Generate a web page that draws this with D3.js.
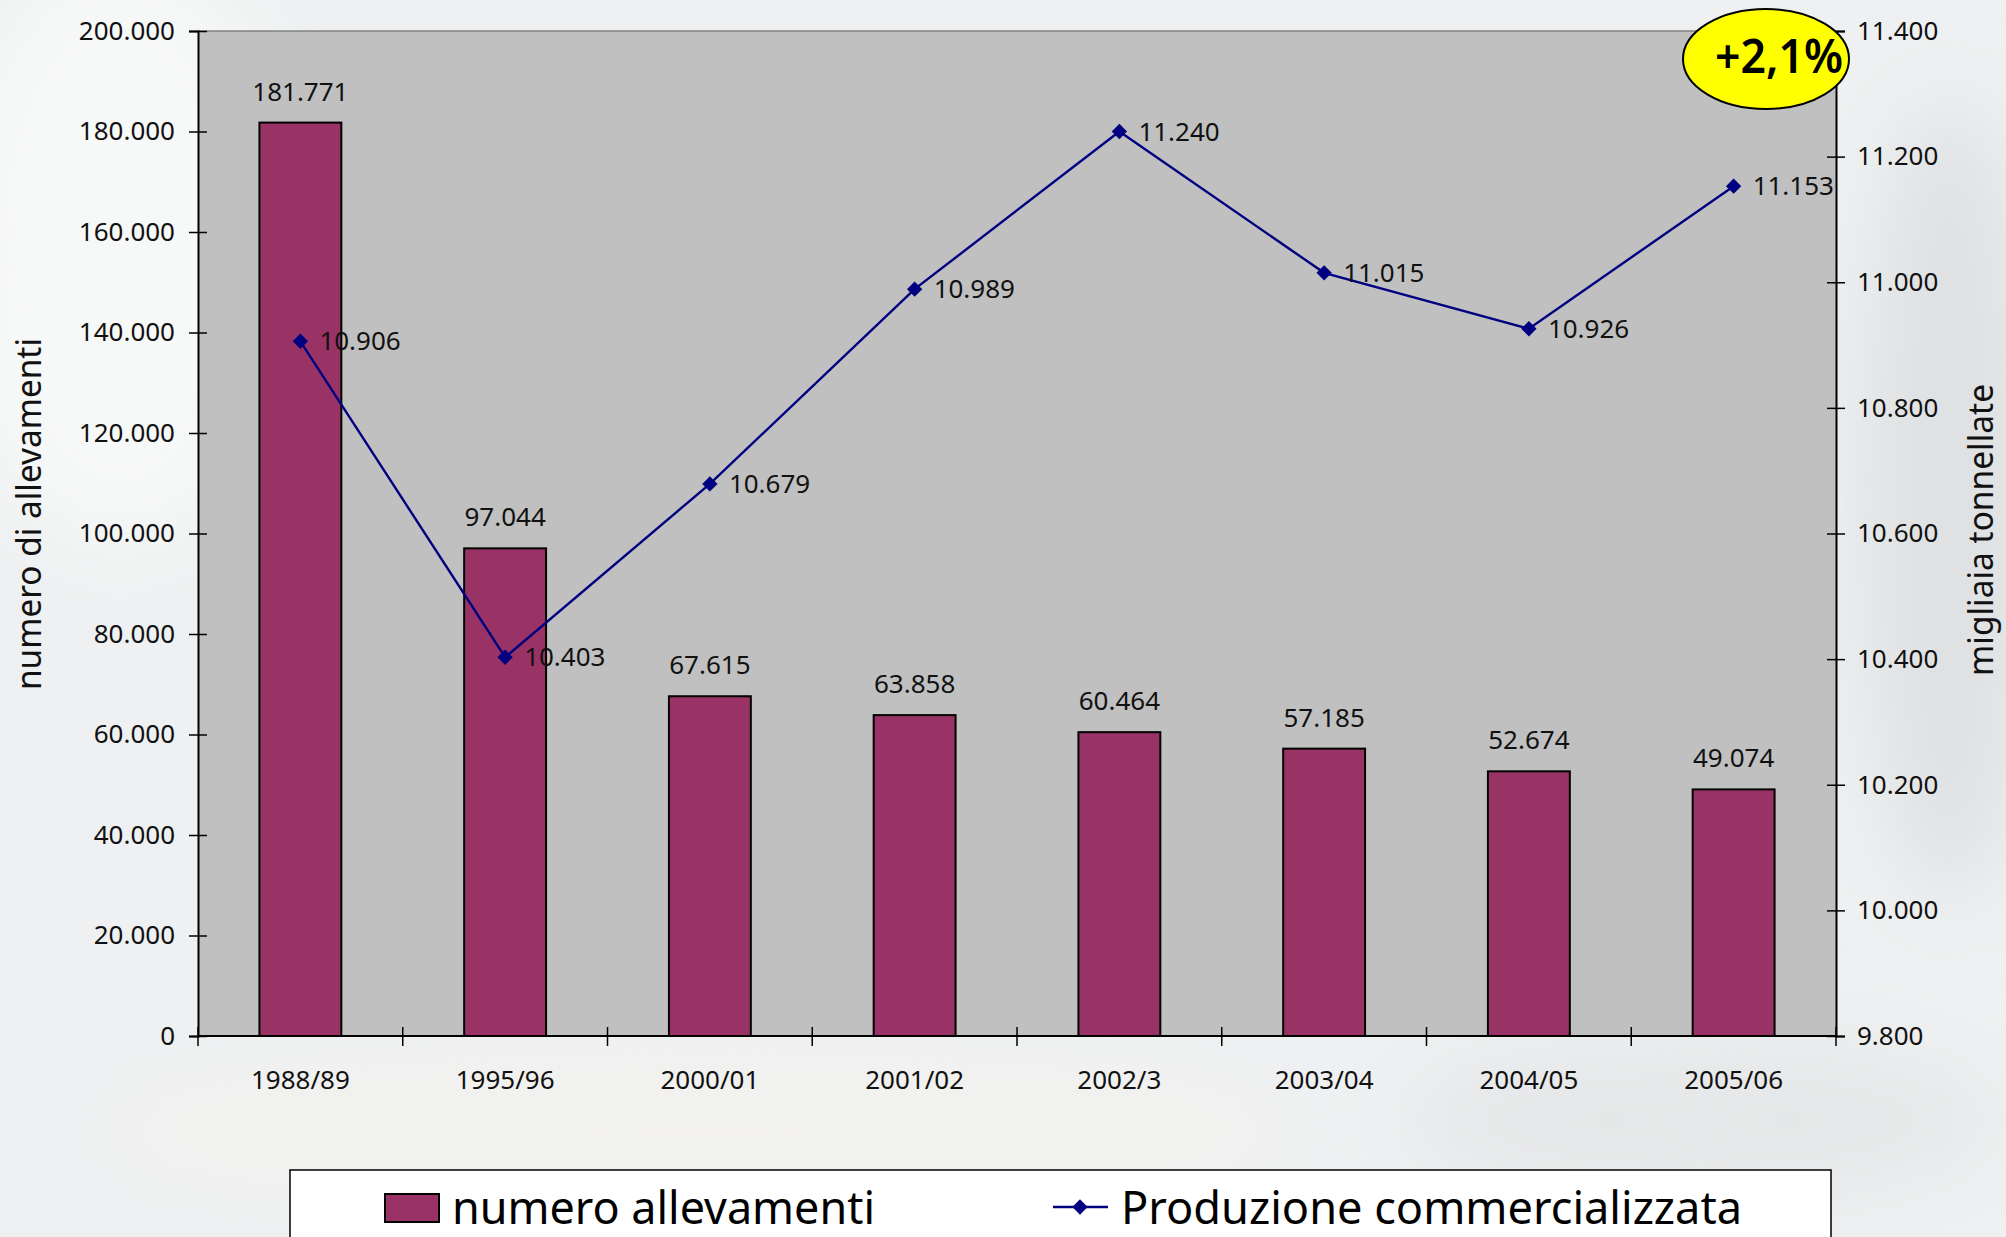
<!DOCTYPE html>
<html>
<head>
<meta charset="utf-8">
<script src="https://cdn.jsdelivr.net/npm/d3@7"></script>
<style>
  html, body { margin: 0; padding: 0; background: #eef0f1; }
  svg { display: block; font-family: "Noto Sans", "DejaVu Sans", sans-serif; }
</style>
</head>
<body>
<div id="chart"></div>
<script>
// categories and series
var seasons = ["1988/89", "1995/96", "2000/01", "2001/02", "2002/3", "2003/04", "2004/05", "2005/06"];
var allevamenti = [181771, 97044, 67615, 63858, 60464, 57185, 52674, 49074];
var produzione = [10906, 10403, 10679, 10989, 11240, 11015, 10926, 11153];
var leftTicks = [0, 20000, 40000, 60000, 80000, 100000, 120000, 140000, 160000, 180000, 200000];
var rightTicks = [9800, 10000, 10200, 10400, 10600, 10800, 11000, 11200, 11400];
var seriesNames = ["numero allevamenti", "Produzione commercializzata"];
var axisTitles = ["numero di allevamenti", "migliaia tonnellate"];
var badge = "+2,1%";

var W = 2006, H = 1237;
var margin = { top: 31, right: 170, bottom: 201, left: 198 },
    width = W - margin.left - margin.right,
    height = H - margin.top - margin.bottom;

var it = d3.formatLocale({ decimal: ",", thousands: ".", grouping: [3], currency: ["", ""] });
var fmt = it.format(",d");

var svg = d3.select("#chart").append("svg")
    .attr("width", W)
    .attr("height", H);

// soft photo-like background
var defs = svg.append("defs");
defs.append("filter").attr("id", "blur")
    .append("feGaussianBlur").attr("stdDeviation", 40);
svg.append("rect").attr("width", W).attr("height", H).attr("fill", "#eef0f1");
var bg = svg.append("g").attr("filter", "url(#blur)");
bg.append("ellipse").attr("cx", 120).attr("cy", 250).attr("rx", 180).attr("ry", 300).attr("fill", "#f7f8f8");
bg.append("ellipse").attr("cx", 1950).attr("cy", 500).attr("rx", 90).attr("ry", 400).attr("fill", "#dfe1e3");
bg.append("ellipse").attr("cx", 700).attr("cy", 1130).attr("rx", 600).attr("ry", 70).attr("fill", "#f3f2ef");
bg.append("ellipse").attr("cx", 1700).attr("cy", 1120).attr("rx", 300).attr("ry", 80).attr("fill", "#e6e7e8");

var g = svg.append("g").attr("transform", "translate(" + margin.left + "," + margin.top + ")");

var x = d3.scaleBand()
    .domain(seasons)
    .range([0, width])
    .paddingInner(0.6)
    .paddingOuter(0.3);

var y = d3.scaleLinear().domain([0, 200000]).range([height, 0]);
var y2 = d3.scaleLinear().domain([9800, 11400]).range([height, 0]);

// plot area
g.append("rect")
    .attr("width", width).attr("height", height)
    .attr("fill", "#c0c0c0");
g.append("line")
    .attr("x1", 0).attr("x2", width).attr("y1", 0).attr("y2", 0)
    .attr("stroke", "#808080").attr("stroke-width", 1.5);

// bars
g.selectAll("rect.bar")
    .data(allevamenti)
    .enter().append("rect")
    .attr("class", "bar")
    .attr("x", function(d, i) { return x(seasons[i]); })
    .attr("y", function(d) { return y(d); })
    .attr("width", x.bandwidth())
    .attr("height", function(d) { return height - y(d); })
    .attr("fill", "#993366")
    .attr("stroke", "#000")
    .attr("stroke-width", 2);

g.selectAll("text.barlab")
    .data(allevamenti)
    .enter().append("text")
    .attr("class", "barlab")
    .attr("x", function(d, i) { return x(seasons[i]) + x.bandwidth() / 2; })
    .attr("y", function(d) { return y(d) - 22; })
    .attr("text-anchor", "middle")
    .attr("font-size", 26)
    .attr("fill", "#111")
    .text(function(d) { return fmt(d); });

// left axis
var axL = g.append("g").call(d3.axisLeft(y).tickValues(leftTicks).tickFormat(fmt).tickSize(9).tickPadding(14));
axL.select(".domain").attr("stroke", "#000").attr("stroke-width", 2);
axL.selectAll(".tick line").attr("x1", -9).attr("x2", 9).attr("stroke", "#000").attr("stroke-width", 1.5);
axL.selectAll(".tick text").attr("font-size", 26).attr("fill", "#111").attr("font-family", "Noto Sans");

// right axis
var axR = g.append("g").attr("transform", "translate(" + width + ",0)")
    .call(d3.axisRight(y2).tickValues(rightTicks).tickFormat(fmt).tickSize(9).tickPadding(12));
axR.select(".domain").attr("stroke", "#000").attr("stroke-width", 2);
axR.selectAll(".tick line").attr("x1", -9).attr("x2", 9).attr("stroke", "#000").attr("stroke-width", 1.5);
axR.selectAll(".tick text").attr("font-size", 26).attr("fill", "#111").attr("font-family", "Noto Sans");

// bottom axis: ticks between categories, labels at centers
var axB = g.append("g").attr("transform", "translate(0," + height + ")");
axB.append("line").attr("x1", 0).attr("x2", width).attr("stroke", "#000").attr("stroke-width", 2);
axB.selectAll("line.sep")
    .data(d3.range(seasons.length + 1))
    .enter().append("line")
    .attr("class", "sep")
    .attr("x1", function(i) { return i * x.step(); })
    .attr("x2", function(i) { return i * x.step(); })
    .attr("y1", -9).attr("y2", 10)
    .attr("stroke", "#000").attr("stroke-width", 1.5);
axB.selectAll("text")
    .data(seasons)
    .enter().append("text")
    .attr("x", function(d) { return x(d) + x.bandwidth() / 2; })
    .attr("y", 53)
    .attr("text-anchor", "middle")
    .attr("font-size", 26)
    .attr("fill", "#111")
    .text(function(d) { return d; });

// line series
var line = d3.line()
    .x(function(d, i) { return x(seasons[i]) + x.bandwidth() / 2; })
    .y(function(d) { return y2(d); });

g.append("path")
    .datum(produzione)
    .attr("d", line)
    .attr("fill", "none")
    .attr("stroke", "#000080")
    .attr("stroke-width", 2.4);

var diamond = d3.symbol().type(d3.symbolDiamond2).size(150);
g.selectAll("path.pt")
    .data(produzione)
    .enter().append("path")
    .attr("class", "pt")
    .attr("transform", function(d, i) { return "translate(" + (x(seasons[i]) + x.bandwidth() / 2) + "," + y2(d) + ")"; })
    .attr("d", diamond)
    .attr("fill", "#000080");

g.selectAll("text.ptlab")
    .data(produzione)
    .enter().append("text")
    .attr("class", "ptlab")
    .attr("x", function(d, i) { return x(seasons[i]) + x.bandwidth() / 2 + 19; })
    .attr("y", function(d) { return y2(d) + 9; })
    .attr("font-size", 26)
    .attr("fill", "#111")
    .text(function(d) { return fmt(d); });

// axis titles
svg.append("text")
    .attr("transform", "translate(41," + (margin.top + 483) + ") rotate(-90)")
    .attr("text-anchor", "middle")
    .attr("font-size", 35)
    .attr("textLength", 352)
    .attr("lengthAdjust", "spacingAndGlyphs")
    .attr("fill", "#111")
    .text(axisTitles[0]);

svg.append("text")
    .attr("transform", "translate(1993," + (margin.top + 499) + ") rotate(-90)")
    .attr("text-anchor", "middle")
    .attr("font-size", 35)
    .attr("textLength", 292)
    .attr("lengthAdjust", "spacingAndGlyphs")
    .attr("fill", "#111")
    .text(axisTitles[1]);

// badge
var bx = margin.left + width - 70, by = 59;
svg.append("ellipse")
    .attr("cx", bx).attr("cy", by).attr("rx", 83).attr("ry", 50)
    .attr("fill", "#ffff00").attr("stroke", "#000").attr("stroke-width", 2);
svg.append("text")
    .attr("x", 1715).attr("y", 73)
    .attr("font-size", 46)
    .attr("font-weight", 600)
    .attr("textLength", 128)
    .attr("lengthAdjust", "spacingAndGlyphs")
    .attr("fill", "#000")
    .text(badge);

// legend
var lg = svg.append("g");
lg.append("rect")
    .attr("x", 290).attr("y", 1170).attr("width", 1541).attr("height", 100)
    .attr("fill", "#fff").attr("stroke", "#000").attr("stroke-width", 1.5);
lg.append("rect")
    .attr("x", 385).attr("y", 1194).attr("width", 54).attr("height", 28)
    .attr("fill", "#993366").attr("stroke", "#000").attr("stroke-width", 2);
lg.append("text")
    .attr("x", 452).attr("y", 1224)
    .attr("font-size", 46)
    .attr("textLength", 423)
    .attr("lengthAdjust", "spacingAndGlyphs")
    .attr("fill", "#000")
    .text(seriesNames[0]);
lg.append("line")
    .attr("x1", 1053).attr("x2", 1108).attr("y1", 1207).attr("y2", 1207)
    .attr("stroke", "#000080").attr("stroke-width", 2.5);
lg.append("path")
    .attr("transform", "translate(1080,1207)")
    .attr("d", diamond)
    .attr("fill", "#000080");
lg.append("text")
    .attr("x", 1121).attr("y", 1224)
    .attr("font-size", 46)
    .attr("textLength", 621)
    .attr("lengthAdjust", "spacingAndGlyphs")
    .attr("fill", "#000")
    .text(seriesNames[1]);
</script>
</body>
</html>
